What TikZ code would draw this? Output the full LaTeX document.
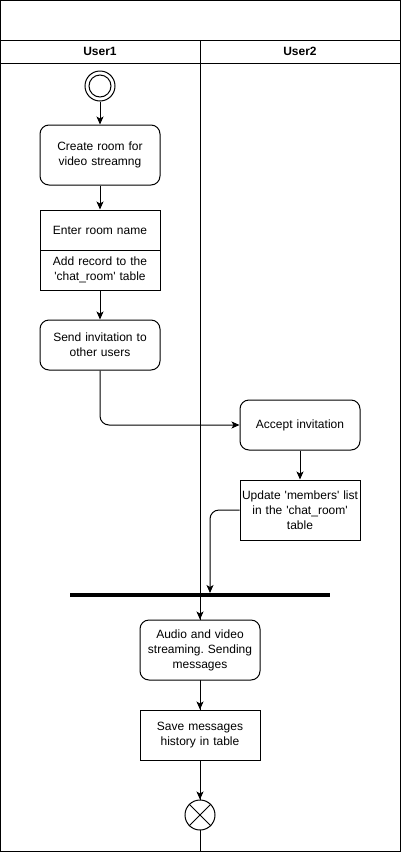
\documentclass[tikz,border=0pt]{standalone}
\usepackage{fontspec}
\setmainfont{Liberation Sans}
\usepackage{tikz}
\usetikzlibrary{positioning}
\usetikzlibrary{arrows.meta}
\newcommand{\q}{\textquotesingle}
\frenchspacing

\begin{document}
\begin{tikzpicture}[x=1pt,y=-1pt,line width=1pt,
  act/.style={draw,fill=white,rounded corners=9pt,minimum width=120pt,text width=116pt,align=center,inner sep=0pt,font=\fontsize{12}{15}\selectfont},
  box/.style={act,rounded corners=0pt},
  arr/.style={-{Stealth[length=8pt,width=7pt,inset=2pt]}},
  lane/.style={font=\bfseries\fontsize{12}{14}\selectfont}]
\useasboundingbox (0,0) rectangle (401,852);
% pool and lanes
\draw (0.5,0.5) rectangle (400.5,851.5);
\draw (0.5,40) -- (400.5,40);
\draw (0.5,63) -- (400.5,63);
\draw (200,40) -- (200,851.5);
\node[lane] (u1) at (100,51.5) {User1};
\node[lane] (u2) at (300,51.5) {User2};
% start
\node[draw,circle,minimum size=30pt,inner sep=0pt] (start) at (100,86) {};
\node[draw,circle,minimum size=22pt,inner sep=0pt] at (start) {};
% user1 lane
\node[act,minimum height=60pt] (create) at (100,155) {Create room for\\video streamng};
\node[box,minimum height=40pt] (enter) at (100,230) {Enter room name};
\node[box,minimum height=40pt] (addrec) at (100,270) {Add record to the\\\q chat\_room\q{} table};
\node[act,minimum height=50pt] (send) at (100,345) {Send invitation to\\other users};
% user2 lane
\node[act,minimum height=50pt] (accept) at (300,425) {Accept invitation};
\node[box,minimum height=60pt] (update) at (300,510) {Update \q members\q{} list\\in the \q chat\_room\q\\table};
% join
\node[fill=black,minimum width=260pt,minimum height=4pt,inner sep=0pt] (bar) at (200,595) {};
\coordinate (barin) at (210,593);
\node[act,minimum height=60pt] (audio) at (200,650) {Audio and video\\streaming. Sending\\messages};
\node[box,minimum height=50pt] (save) at (200,735) {Save messages\\history in table};
\node[draw,fill=white,circle,minimum size=30pt,inner sep=0pt] (stop) at (200,815) {};
\draw (stop.north west) -- (stop.south east);
\draw (stop.north east) -- (stop.south west);
% flow
\draw[arr] (start) -- (create);
\draw[arr] (create) -- (enter);
\draw[arr] (addrec) -- (send);
\draw[arr,rounded corners=9pt] (send.south) |- (accept.west);
\draw[arr] (accept) -- (update);
\draw[arr,rounded corners=9pt] (update.west) -| (barin);
\draw[arr] (bar.south) -- (audio.north);
\draw[arr] (audio) -- (save);
\draw[arr] (save) -- (stop);
\end{tikzpicture}
\end{document}
